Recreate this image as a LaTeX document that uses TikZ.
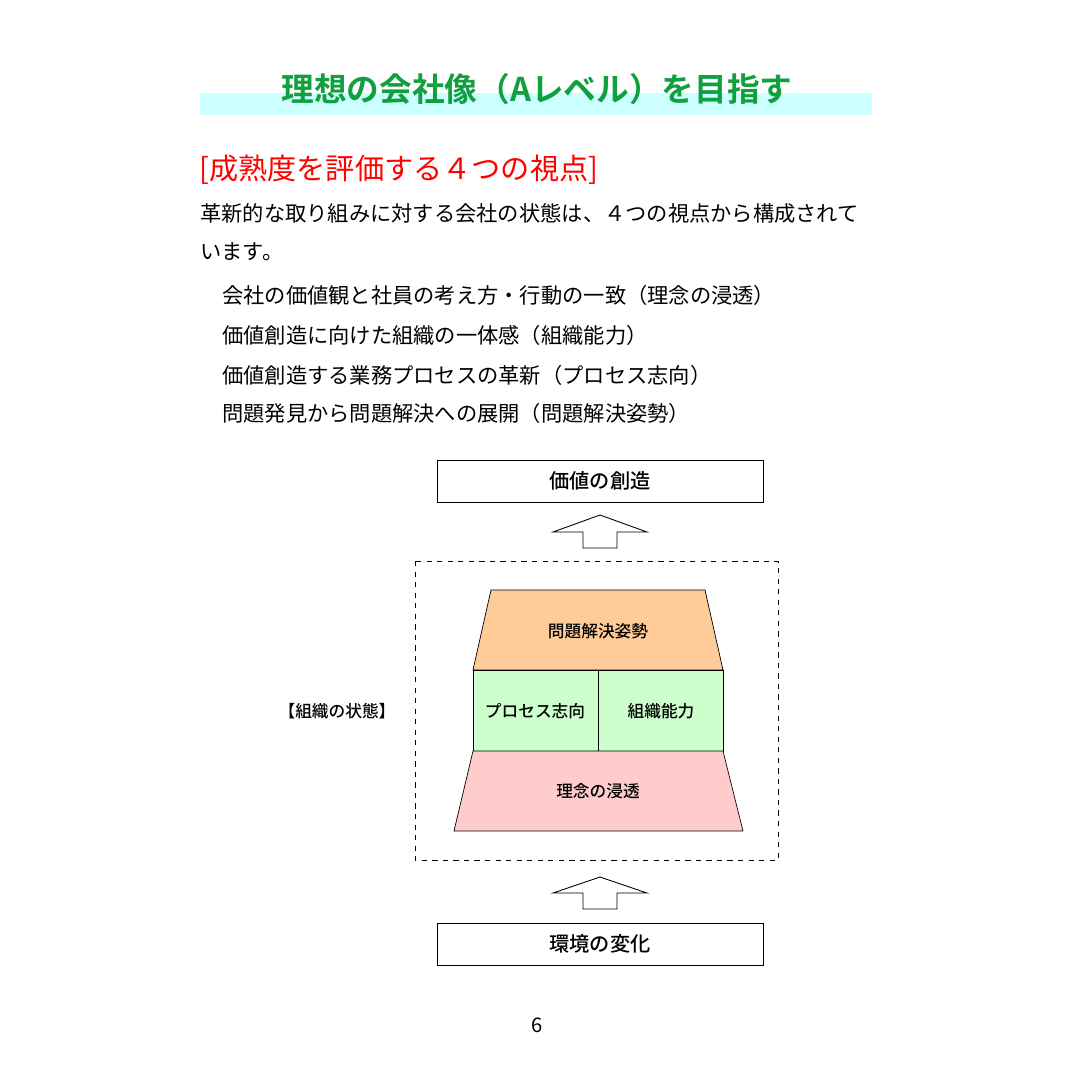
\documentclass[tikz,border=0pt]{standalone}
\usepackage{fontspec}
\setmainfont{Noto Sans CJK JP}
\newfontfamily\jpbold{Noto Sans CJK JP Bold}
\newfontfamily\jpmed{Noto Sans CJK JP Medium}
\definecolor{ttlgreen}{HTML}{10A040}
\definecolor{bandcyan}{HTML}{CCFFFF}
\definecolor{orng}{HTML}{FFCC99}
\definecolor{grn}{HTML}{CCFFCC}
\definecolor{pnk}{HTML}{FFCCCC}
\tikzset{
  txtline/.style={anchor=west,font=\fontsize{12.1}{13}\selectfont,inner sep=0pt},
  endbox/.style={draw,minimum width=326*0.02cm,minimum height=42*0.02cm,font=\jpmed\fontsize{11.5}{13}\selectfont},
  lbl/.style={font=\jpmed\fontsize{9.5}{11}\selectfont},
  uparr/.style={draw,fill=white,line width=0.5pt}
}
\begin{document}
\begin{tikzpicture}[x=0.02cm,y=-0.02cm]
\useasboundingbox (0,0) rectangle (1080,1080);
% title
\fill[bandcyan] (200,93) rectangle (872,115);
\node[font=\jpbold\fontsize{18.6}{22}\selectfont,text=ttlgreen] (title) at (537,89) {理想の会社像（Aレベル）を目指す};
\node[anchor=west,inner sep=0pt,text=red,font=\fontsize{16.6}{18}\selectfont] (head) at (199,170) {[成熟度を評価する４つの視点]};
\node[txtline] (l1) at (200,213) {革新的な取り組みに対する会社の状態は、４つの視点から構成されて};
\node[txtline] (l2) at (200,252) {います。};
\node[txtline] (l3) at (222,295) {会社の価値観と社員の考え方・行動の一致（理念の浸透）};
\node[txtline] (l4) at (222,335) {価値創造に向けた組織の一体感（組織能力）};
\node[txtline] (l5) at (222,375) {価値創造する業務プロセスの革新（プロセス志向）};
\node[txtline] (l6) at (222,413) {問題発見から問題解決への展開（問題解決姿勢）};
% diagram
\node[endbox] (value) at (600,481) {価値の創造};
\node[endbox] (env) at (600,944) {環境の変化};
\draw[dashed] (415,561) rectangle (778,860);
\draw[fill=orng] (491,590) -- (705,590) -- (723,670) -- (473,670) -- cycle;
\draw[fill=grn] (473,670) rectangle (723,751);
\draw (598,670) -- (598,751);
\draw[fill=pnk] (473,751) -- (723,751) -- (743,831) -- (454,831) -- cycle;
\node[lbl] (mond) at (598,631) {問題解決姿勢};
\node[lbl] (proc) at (535,711) {プロセス志向};
\node[lbl] (soshiki) at (661,711) {組織能力};
\node[lbl] (rinen) at (598,791) {理念の浸透};
\node[lbl] (state) at (337,711) {【組織の状態】};
\draw[uparr] (583,548) -- (583,532) -- (553,532) -- (600,515) -- (647,532) -- (617,532) -- (617,548) -- cycle;
\draw[uparr] (583,909) -- (583,893) -- (553,893) -- (600,877) -- (647,893) -- (617,893) -- (617,909) -- cycle;
\node[font=\fontsize{11.5}{13}\selectfont] (page) at (537,1025) {6};
\end{tikzpicture}
\end{document}
